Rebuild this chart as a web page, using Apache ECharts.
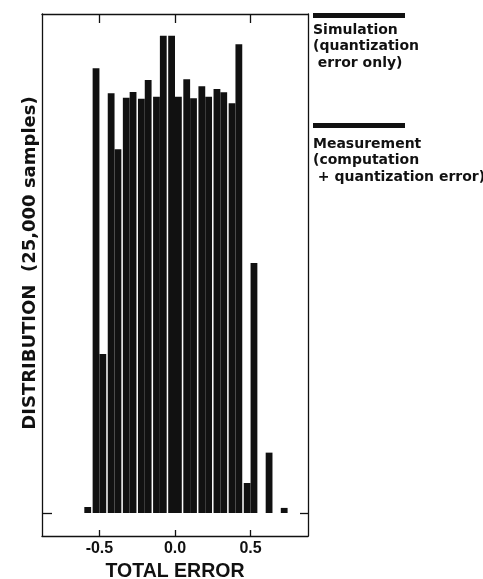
<!DOCTYPE html>
<html><head><meta charset="utf-8">
<script src="https://cdn.jsdelivr.net/npm/echarts@6/dist/echarts.min.js"></script>
<style>html,body{margin:0;padding:0;background:#fff}#c{width:483px;height:579px}</style>
</head><body><div id="c"></div>
<script>
// Bin centres (total error) and counts per bin for each series
const binCenters = [-0.6, -0.5, -0.4, -0.3, -0.2, -0.1, 0.0, 0.1, 0.2, 0.3, 0.4, 0.5, 0.6, 0.7];
const simulation  = [0, 2446, 2308, 2284, 2279, 2290, 2625, 2385, 2347, 2332, 2253, 165, 0, 0];
const measurement = [33, 875, 2000, 2316, 2382, 2625, 2290, 2281, 2290, 2314, 2578, 1375, 332, 28];
const xTickValues = [-0.5, 0.0, 0.5];
const simLegendLines = ['Simulation', '(quantization', ' error only)'];
const measLegendLines = ['Measurement', '(computation', ' + quantization error)'];

const chart = echarts.init(document.getElementById('c'));
const ink = '#111';
const frame = {show: true, onZero: false, lineStyle: {color: ink, width: 1.3}};
const font = 'Liberation Sans, Arial, Helvetica, sans-serif';
const wideFont = 'DejaVu Sans, sans-serif';

function legendBlock(barTop, textTop, lines) {
  const els = [{type: 'rect', left: 313, top: barTop, shape: {width: 92, height: 5}, style: {fill: ink}}];
  lines.forEach((t, i) => {
    els.push({type: 'text', left: 313, top: textTop + i * 16.5,
      style: {text: t, font: 'bold 14px ' + wideFont, fill: ink}});
  });
  return els;
}

chart.setOption({
  animation: false,
  backgroundColor: '#fff',
  grid: {left: 42, right: 175, top: 14, bottom: 43, containLabel: false, outerBoundsMode: 'none'},
  xAxis: [{
    type: 'value', position: 'bottom', min: -0.88, max: 0.88,
    axisLine: frame, splitLine: {show: false},
    axisTick: {show: true, inside: true, length: 6, customValues: xTickValues, lineStyle: {color: ink, width: 1.3}},
    axisLabel: {show: true, customValues: xTickValues, margin: 5, color: ink,
      fontFamily: font, fontWeight: 'bold', fontSize: 16,
      formatter: v => (v < 0 ? '-' : '') + Math.abs(v).toFixed(1)},
    name: 'TOTAL ERROR', nameLocation: 'middle', nameGap: 22,
    nameTextStyle: {color: ink, fontFamily: font, fontWeight: 'bold', fontSize: 19.5}
  }, {
    type: 'value', position: 'top', min: -0.88, max: 0.88,
    axisLine: frame, splitLine: {show: false},
    axisTick: {show: true, inside: true, length: 9, customValues: xTickValues, lineStyle: {color: ink, width: 1.3}},
    axisLabel: {show: false}
  }],
  yAxis: [{
    type: 'value', position: 'left', min: -126.5, max: 2744.5,
    axisLine: frame, splitLine: {show: false},
    axisTick: {show: true, inside: true, length: 10, customValues: [0], lineStyle: {color: ink, width: 1.3}},
    axisLabel: {show: false},
    name: 'DISTRIBUTION  (25,000 samples)', nameLocation: 'middle', nameGap: 3,
    nameTextStyle: {color: ink, fontFamily: wideFont, fontWeight: 'bold', fontSize: 18, padding: [0, 0, 0, 24]}
  }, {
    type: 'value', position: 'right', min: -126.5, max: 2744.5,
    axisLine: frame, splitLine: {show: false},
    axisTick: {show: true, inside: true, length: 8, customValues: [0], lineStyle: {color: ink, width: 1.3}},
    axisLabel: {show: false}
  }],
  series: [{
    name: 'Simulation', type: 'bar', xAxisIndex: 0, yAxisIndex: 0,
    barWidth: 6.8, barGap: '0%',
    itemStyle: {color: ink},
    data: binCenters.map((x, i) => [x, simulation[i]])
  }, {
    name: 'Measurement', type: 'bar', xAxisIndex: 0, yAxisIndex: 0,
    barWidth: 6.8, barGap: '0%',
    itemStyle: {color: ink},
    data: binCenters.map((x, i) => [x, measurement[i]])
  }],
  graphic: legendBlock(13, 23, simLegendLines).concat(legendBlock(123, 137, measLegendLines))
});
</script></body></html>
